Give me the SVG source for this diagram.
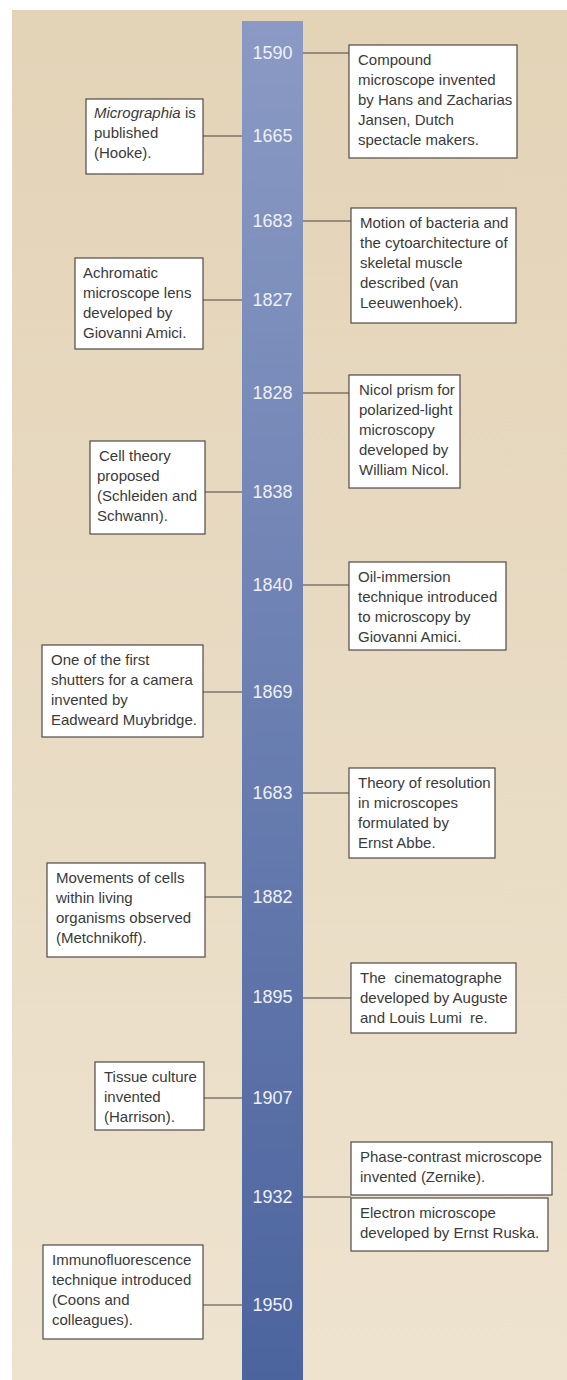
<svg xmlns="http://www.w3.org/2000/svg" width="567" height="1380" viewBox="0 0 567 1380">
<defs>
<linearGradient id="bg" x1="0" y1="0" x2="0" y2="1">
<stop offset="0" stop-color="#e3d3b7"/>
<stop offset="1" stop-color="#eee3cf"/>
</linearGradient>
<linearGradient id="bar" x1="0" y1="0" x2="0" y2="1">
<stop offset="0" stop-color="#8a9ac4"/>
<stop offset="1" stop-color="#4c649e"/>
</linearGradient>
<style>
.box{fill:#ffffff;stroke:#4f4a45;stroke-width:1.2}
.t{font-family:"Liberation Sans",Arial,sans-serif;font-size:15px;fill:#3a3a3a}
.yr{font-family:"Liberation Sans",Arial,sans-serif;font-size:18px;fill:#eef0f8;text-anchor:middle}
.c line{stroke:#4a4540;stroke-width:1.2}
</style>
</defs>
<rect x="12" y="10" width="555" height="1370" fill="url(#bg)"/>
<g id="timeline">
<rect x="242" y="21" width="61" height="1359" fill="url(#bar)"/>
<text class="yr" x="272.5" y="59">1590</text>
<text class="yr" x="272.5" y="142">1665</text>
<text class="yr" x="272.5" y="227">1683</text>
<text class="yr" x="272.5" y="306">1827</text>
<text class="yr" x="272.5" y="399">1828</text>
<text class="yr" x="272.5" y="498">1838</text>
<text class="yr" x="272.5" y="591">1840</text>
<text class="yr" x="272.5" y="698">1869</text>
<text class="yr" x="272.5" y="799">1683</text>
<text class="yr" x="272.5" y="903">1882</text>
<text class="yr" x="272.5" y="1003">1895</text>
<text class="yr" x="272.5" y="1104">1907</text>
<text class="yr" x="272.5" y="1203">1932</text>
<text class="yr" x="272.5" y="1311">1950</text>
</g>
<g id="connectors" class="c">
<line x1="303" y1="53" x2="349" y2="53"/>
<line x1="203" y1="136" x2="242" y2="136"/>
<line x1="303" y1="221" x2="351" y2="221"/>
<line x1="203" y1="300" x2="242" y2="300"/>
<line x1="303" y1="393" x2="349" y2="393"/>
<line x1="205" y1="492" x2="242" y2="492"/>
<line x1="303" y1="585" x2="349" y2="585"/>
<line x1="203" y1="692" x2="242" y2="692"/>
<line x1="303" y1="793" x2="349" y2="793"/>
<line x1="205" y1="897" x2="242" y2="897"/>
<line x1="303" y1="998" x2="351" y2="998"/>
<line x1="204" y1="1098" x2="242" y2="1098"/>
<line x1="303" y1="1197" x2="351" y2="1197"/>
<line x1="203" y1="1305" x2="242" y2="1305"/>
</g>
<g id="n1590">
<rect class="box" x="349" y="45" width="168" height="113"/>
<text class="t" x="358" y="65">Compound</text>
<text class="t" x="358" y="85">microscope invented</text>
<text class="t" x="358" y="105">by Hans and Zacharias</text>
<text class="t" x="358" y="125">Jansen, Dutch</text>
<text class="t" x="358" y="145">spectacle makers.</text>
</g>
<g id="n1665">
<rect class="box" x="86" y="99" width="117" height="75"/>
<text class="t" x="94" y="118"><tspan font-style="italic">Micrographia</tspan> is</text>
<text class="t" x="94" y="138">published</text>
<text class="t" x="94" y="158">(Hooke).</text>
</g>
<g id="n1683a">
<rect class="box" x="351" y="208" width="165" height="115"/>
<text class="t" x="360" y="228">Motion of bacteria and</text>
<text class="t" x="360" y="248">the cytoarchitecture of</text>
<text class="t" x="360" y="268">skeletal muscle</text>
<text class="t" x="360" y="288">described (van</text>
<text class="t" x="360" y="308">Leeuwenhoek).</text>
</g>
<g id="n1827">
<rect class="box" x="75" y="258" width="128" height="91"/>
<text class="t" x="83" y="278">Achromatic</text>
<text class="t" x="83" y="298">microscope lens</text>
<text class="t" x="83" y="318">developed by</text>
<text class="t" x="83" y="338">Giovanni Amici.</text>
</g>
<g id="n1828">
<rect class="box" x="349" y="375" width="111" height="113"/>
<text class="t" x="359" y="395">Nicol prism for</text>
<text class="t" x="359" y="415">polarized-light</text>
<text class="t" x="359" y="435">microscopy</text>
<text class="t" x="359" y="455">developed by</text>
<text class="t" x="359" y="475">William Nicol.</text>
</g>
<g id="n1838">
<rect class="box" x="90" y="441" width="115" height="93"/>
<text class="t" x="99" y="461">Cell theory</text>
<text class="t" x="97" y="481">proposed</text>
<text class="t" x="97" y="501">(Schleiden and</text>
<text class="t" x="97" y="521">Schwann).</text>
</g>
<g id="n1840">
<rect class="box" x="349" y="562" width="157" height="88"/>
<text class="t" x="358" y="582">Oil-immersion</text>
<text class="t" x="358" y="602">technique introduced</text>
<text class="t" x="358" y="622">to microscopy by</text>
<text class="t" x="358" y="642">Giovanni Amici.</text>
</g>
<g id="n1869">
<rect class="box" x="42" y="645" width="161" height="92"/>
<text class="t" x="51" y="665">One of the first</text>
<text class="t" x="51" y="685">shutters for a camera</text>
<text class="t" x="51" y="705">invented by</text>
<text class="t" x="51" y="725">Eadweard Muybridge.</text>
</g>
<g id="n1683b">
<rect class="box" x="349" y="768" width="146" height="90"/>
<text class="t" x="358" y="788">Theory of resolution</text>
<text class="t" x="358" y="808">in microscopes</text>
<text class="t" x="358" y="828">formulated by</text>
<text class="t" x="358" y="848">Ernst Abbe.</text>
</g>
<g id="n1882">
<rect class="box" x="47" y="863" width="158" height="94"/>
<text class="t" x="56" y="883">Movements of cells</text>
<text class="t" x="56" y="903">within living</text>
<text class="t" x="56" y="923">organisms observed</text>
<text class="t" x="56" y="943">(Metchnikoff).</text>
</g>
<g id="n1895">
<rect class="box" x="351" y="963" width="165" height="70"/>
<text class="t" x="360" y="983" xml:space="preserve">The  cinematographe</text>
<text class="t" x="360" y="1003">developed by Auguste</text>
<text class="t" x="360" y="1023" xml:space="preserve">and Louis Lumi  re.</text>
</g>
<g id="n1907">
<rect class="box" x="95" y="1062" width="109" height="68"/>
<text class="t" x="104" y="1082">Tissue culture</text>
<text class="t" x="104" y="1102">invented</text>
<text class="t" x="104" y="1122">(Harrison).</text>
</g>
<g id="n1932a">
<rect class="box" x="351" y="1142" width="201" height="53"/>
<text class="t" x="360" y="1162">Phase-contrast microscope</text>
<text class="t" x="360" y="1182">invented (Zernike).</text>
</g>
<g id="n1932b">
<rect class="box" x="351" y="1198" width="197" height="53"/>
<text class="t" x="360" y="1218">Electron microscope</text>
<text class="t" x="360" y="1238">developed by Ernst Ruska.</text>
</g>
<g id="n1950">
<rect class="box" x="43" y="1245" width="160" height="94"/>
<text class="t" x="52" y="1265">Immunofluorescence</text>
<text class="t" x="52" y="1285">technique introduced</text>
<text class="t" x="52" y="1305">(Coons and</text>
<text class="t" x="52" y="1325">colleagues).</text>
</g>
</svg>
